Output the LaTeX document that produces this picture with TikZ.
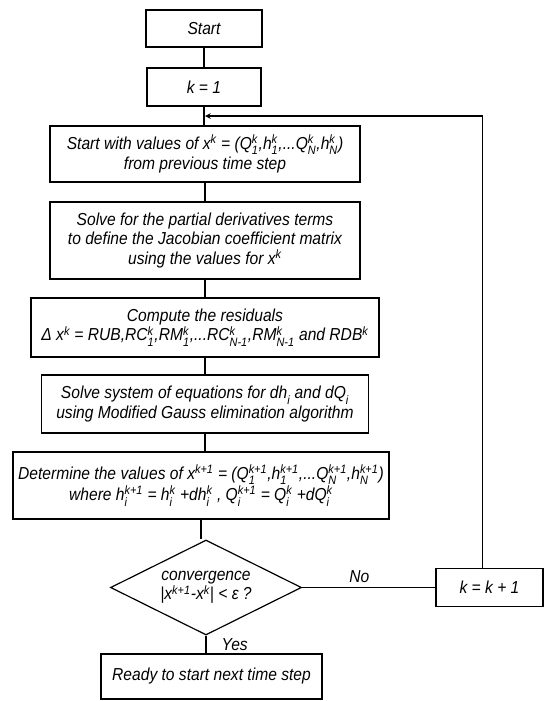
\documentclass[tikz,border=0pt]{standalone}
\usepackage{amsmath}
\usepackage{fontspec}
\setmainfont{Liberation Sans}[FakeStretch=0.9]
\usepackage{tikz}
\usetikzlibrary{shapes.geometric}

% text face used inside the chart
\newcommand{\flowfont}{\fontsize{13}{14.6}\selectfont\itshape}
% stacked superscript/subscript in the running text face
\newcommand{\sk}[2]{\ensuremath{{}^{\text{#1}}_{\text{#2}}}}

\begin{document}
\begin{tikzpicture}[x=0.75pt,y=0.75pt,>=stealth,
    flowbox/.style={draw,line width=0.9pt,font=\flowfont,align=center,inner sep=2pt},
    decision/.style={diamond,aspect=2,draw,line width=0.9pt,font=\flowfont,align=center,inner sep=0pt},
    link/.style={line width=0.9pt}]
    \useasboundingbox (0,0) rectangle (546,-701);

    % Main column
    \node[flowbox,minimum width=87pt,minimum height=27.75pt] (start) at (204,-28.5) {Start};
    \node[flowbox,minimum width=85.5pt,minimum height=28.5pt] (kinit) at (204,-87) {k = 1};
    \node[flowbox,minimum width=232.5pt,minimum height=42pt] (prev) at (205,-154)
        {Start with values of x\sk{k}{} = (Q\sk{k}{1},h\sk{k}{1},...Q\sk{k}{N},h\sk{k}{N})\\
         from previous time step};
    \node[flowbox,minimum width=232.5pt,minimum height=57.75pt] (jacob) at (205,-240.5)
        {Solve for the partial derivatives terms\\
         to define the Jacobian coefficient matrix\\
         using the values for x\sk{k}{}};
    \node[flowbox,minimum width=261pt,minimum height=44.25pt] (resid) at (205,-327.5)
        {Compute the residuals\\
         Δ x\sk{k}{} = RUB,RC\sk{k}{1},RM\sk{k}{1},...RC\sk{k}{N-1},RM\sk{k}{N-1} and RDB\sk{k}{}};
    \node[flowbox,minimum width=245.25pt,minimum height=43.5pt] (gauss) at (205,-404)
        {Solve system of equations for dh\sk{}{i} and dQ\sk{}{i}\\
         using Modified Gauss elimination algorithm};
    \node[flowbox,minimum width=282pt,minimum height=50.25pt] (update) at (201,-485.5)
        {Determine the values of x\sk{k+1}{} = (Q\sk{k+1}{1},h\sk{k+1}{1},...Q\sk{k+1}{N},h\sk{k+1}{N})\\
         where h\sk{k+1}{i} = h\sk{k}{i} +dh\sk{k}{i} , Q\sk{k+1}{i} = Q\sk{k}{i} +dQ\sk{k}{i}};
    \node[decision,minimum width=143.25pt,minimum height=71.25pt] (conv) at (206,-587.5)
        {convergence\\ |x\sk{k+1}{}-x\sk{k}{}| < ε ?};
    \node[flowbox,minimum width=165.75pt,minimum height=33.75pt] (done) at (211.5,-676.5)
        {Ready to start next time step};

    % Iteration counter on the right
    \node[flowbox,minimum width=80.25pt,minimum height=28.5pt] (knext) at (489.5,-587.5) {k = k + 1};
    \coordinate (loopjoin) at (205,-116);

    % Connectors down the column
    \foreach \a/\b in {start/kinit,kinit/prev,prev/jacob,jacob/resid,resid/gauss,gauss/update,update/conv}
        \draw[link] (\a.south) -- (\a.south |- \b.north);
    \draw[link] (conv.south) -- node[right=8pt,font=\flowfont] {Yes} (conv.south |- done.north);

    % Not converged: go round again
    \draw[link] (conv.east) -- node[above,pos=0.43,font=\flowfont] {No} (knext.west);
    \draw[link,->] ([xshift=-5pt]knext.north) |- (loopjoin);
\end{tikzpicture}
\end{document}
